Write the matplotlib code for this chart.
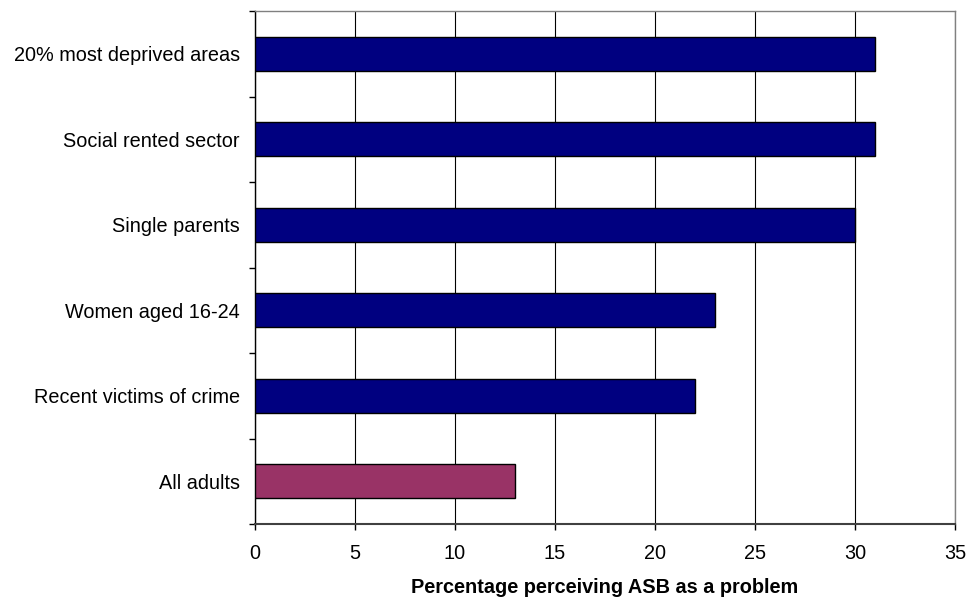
import matplotlib
matplotlib.use("Agg")
import matplotlib.pyplot as plt
import numpy as np

categories = ["20% most deprived areas", "Social rented sector", "Single parents",
              "Women aged 16-24", "Recent victims of crime", "All adults"]
values = [31, 31, 30, 23, 22, 13]
colors = ["#000080", "#000080", "#000080", "#000080", "#000080", "#993366"]
xticks = [0, 5, 10, 15, 20, 25, 30, 35]
xlabel = "Percentage perceiving ASB as a problem"

plt.rcParams['font.family'] = ['Liberation Sans', 'DejaVu Sans']
FS = 14.3

fig = plt.figure(figsize=(9.69, 5.97), dpi=100)
ax = fig.add_axes([255/969, 1-524/597, 700/969, 513/597])

n = len(categories)
y = np.arange(n)[::-1]
ax.barh(y, values, height=0.4, color=colors, edgecolor="black", linewidth=1, zorder=3)

ax.set_xlim(0, 35)
ax.set_ylim(-0.5, n-0.5)
ax.set_xticks(xticks)
ax.set_xticklabels([str(t) for t in xticks], fontsize=FS)
ax.set_yticks(y)
ax.set_yticklabels(categories, fontsize=FS)
ax.set_yticks(np.arange(-0.5, n, 1.0), minor=True)
ax.tick_params(axis='y', which='major', length=0, pad=11)
ax.tick_params(axis='y', which='minor', length=4.5, width=1, color="black", direction='out')
ax.tick_params(axis='x', which='major', length=4.5, width=1, color="black", direction='out', pad=10)

ax.grid(axis='x', color='black', linewidth=0.8, zorder=0)
ax.set_axisbelow(True)

for s in ['top', 'right']:
    ax.spines[s].set_color('#808080')
    ax.spines[s].set_linewidth(1)
ax.spines['left'].set_color('black')
ax.spines['left'].set_linewidth(1)
ax.spines['bottom'].set_color('#404040')
ax.spines['bottom'].set_linewidth(1.5)

ax.set_xlabel(xlabel, fontsize=FS, fontweight='bold', labelpad=11)

fig.savefig("out.png", dpi=100)
